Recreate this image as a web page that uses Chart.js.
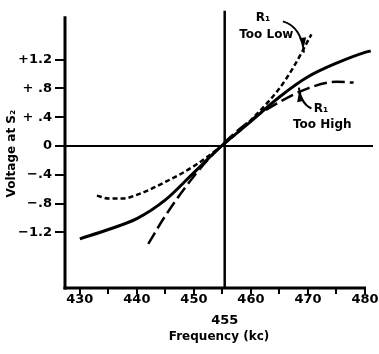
<!DOCTYPE html>
<html>
<head>
<meta charset="utf-8">
<script src="https://cdn.jsdelivr.net/npm/chart.js@4/dist/chart.umd.min.js"></script>
<style>
  html, body { margin: 0; padding: 0; background: #fff; }
  canvas { display: block; }
</style>
</head>
<body>
<canvas id="freqChart" width="379" height="354"></canvas>
<script>
// values
const freqNormal = [430, 435, 440, 445, 450, 455, 460, 465, 470, 475, 480, 481];
const voltNormal = [-1.29, -1.16, -1.01, -0.75, -0.37, 0.01, 0.34, 0.68, 0.96, 1.15, 1.30, 1.32];

const freqTooLow = [433, 435, 437.5, 440, 445, 450, 455, 460, 465, 467.5, 470.6];
const voltTooLow = [-0.69, -0.73, -0.73, -0.68, -0.50, -0.28, 0.01, 0.36, 0.80, 1.10, 1.55];

const freqTooHigh = [442, 445, 450, 455, 460, 465, 470, 475, 478];
const voltTooHigh = [-1.36, -0.97, -0.42, 0.02, 0.36, 0.61, 0.80, 0.89, 0.88];

const xTicks = [430, 435, 440, 445, 450, 455, 460, 465, 470, 475, 480];
const yTicks = [-1.2, -0.8, -0.4, 0, 0.4, 0.8, 1.2];
const yTickLabels = ['\u22121.2', '\u2212.8', '\u2212.4', '0', '+ .4', '+ .8', '+1.2'];

const FONT = "'DejaVu Sans', sans-serif";
// the hand-drawn centre line sits a hair right of the 455 tick
const CENTER_LINE = 455.4;

function toPoints(xs, ys) {
    return xs.map((v, i) => ({ x: v, y: ys[i] }));
}

function drawArrowHead(ctx, fromX, fromY, tipX, tipY) {
    const ang = Math.atan2(tipY - fromY, tipX - fromX);
    const len = 9, half = 3.5;
    ctx.beginPath();
    ctx.moveTo(tipX, tipY);
    ctx.lineTo(tipX - len * Math.cos(ang) + half * Math.sin(ang), tipY - len * Math.sin(ang) - half * Math.cos(ang));
    ctx.lineTo(tipX - len * Math.cos(ang) - half * Math.sin(ang), tipY - len * Math.sin(ang) + half * Math.cos(ang));
    ctx.closePath();
    ctx.fill();
}

// axes, reference lines and the R1 notes
const paperPlugin = {
    id: 'paper',
    beforeDraw(chart) {
        const ctx = chart.ctx;
        ctx.save();
        ctx.fillStyle = '#fff';
        ctx.fillRect(0, 0, chart.width, chart.height);
        ctx.restore();
    },
    beforeDatasetsDraw(chart) {
        const { ctx, chartArea, scales: { x, y } } = chart;
        ctx.save();
        ctx.strokeStyle = '#000';

        // left axis stops a little below the top of the plot
        ctx.lineWidth = 3;
        ctx.beginPath();
        ctx.moveTo(chartArea.left, y.getPixelForValue(1.8));
        ctx.lineTo(chartArea.left, chartArea.bottom + 1.5);
        ctx.stroke();

        // bottom axis ends at 480
        ctx.beginPath();
        ctx.moveTo(chartArea.left - 1.5, chartArea.bottom);
        ctx.lineTo(x.getPixelForValue(480) + 1, chartArea.bottom);
        ctx.stroke();

        // zero line
        ctx.lineWidth = 2;
        ctx.beginPath();
        ctx.moveTo(chartArea.left, y.getPixelForValue(0));
        ctx.lineTo(chartArea.right, y.getPixelForValue(0));
        ctx.stroke();

        // centre frequency
        const xc = x.getPixelForValue(CENTER_LINE);
        ctx.lineWidth = 2.5;
        ctx.beginPath();
        ctx.moveTo(xc, chartArea.top);
        ctx.lineTo(xc, chartArea.bottom);
        ctx.stroke();

        ctx.fillStyle = '#000';
        ctx.font = 'bold 13px ' + FONT;
        ctx.textAlign = 'center';
        ctx.textBaseline = 'middle';
        ctx.fillText('455', xc, chartArea.bottom + 33);
        ctx.restore();
    },
    afterDatasetsDraw(chart) {
        const { ctx, scales: { x, y } } = chart;
        const px = v => x.getPixelForValue(v);
        const py = v => y.getPixelForValue(v);
        ctx.save();
        ctx.fillStyle = '#000';
        ctx.strokeStyle = '#000';
        ctx.textAlign = 'center';
        ctx.textBaseline = 'middle';

        ctx.font = 'bold 12px ' + FONT;
        ctx.fillText('R\u2081', px(462.1), py(1.78));
        ctx.fillText('Too Low', px(462.7), py(1.54));
        ctx.fillText('R\u2081', px(472.3), py(0.52));
        ctx.fillText('Too High', px(472.5), py(0.29));

        ctx.lineWidth = 2;
        // arrow to the R1-too-low curve
        let sx = px(465.6), sy = py(1.73), cx = px(468.8), cy = py(1.66), tx = px(469.3), ty = py(1.38);
        ctx.beginPath();
        ctx.moveTo(sx, sy);
        ctx.quadraticCurveTo(cx, cy, tx, ty + 6);
        ctx.stroke();
        drawArrowHead(ctx, cx, cy, tx, ty);

        // arrow to the R1-too-high curve
        sx = px(470.6); sy = py(0.52); cx = px(468.8); cy = py(0.58); tx = px(468.4); ty = py(0.74);
        ctx.beginPath();
        ctx.moveTo(sx, sy);
        ctx.quadraticCurveTo(cx, cy, tx, ty - 5);
        ctx.stroke();
        drawArrowHead(ctx, cx, cy, tx, ty);
        ctx.restore();
    }
};

const ctx = document.getElementById('freqChart').getContext('2d');
const chart = new Chart(ctx, {
    type: 'line',
    data: {
        datasets: [{
            label: 'Normal',
            data: toPoints(freqNormal, voltNormal),
            borderColor: '#000',
            borderWidth: 3,
            pointRadius: 0,
            cubicInterpolationMode: 'monotone'
        }, {
            label: 'R1 Too Low',
            data: toPoints(freqTooLow, voltTooLow),
            borderColor: '#000',
            borderWidth: 2.5,
            borderDash: [5, 3],
            pointRadius: 0,
            cubicInterpolationMode: 'monotone'
        }, {
            label: 'R1 Too High',
            data: toPoints(freqTooHigh, voltTooHigh),
            borderColor: '#000',
            borderWidth: 2.5,
            borderDash: [13, 5],
            pointRadius: 0,
            cubicInterpolationMode: 'monotone'
        }]
    },
    options: {
        responsive: false,
        animation: false,
        devicePixelRatio: 1,
        layout: { padding: { top: 7, right: 6, left: 0, bottom: 0 } },
        plugins: {
            legend: { display: false },
            tooltip: { enabled: false }
        },
        scales: {
            x: {
                type: 'linear',
                min: 427.4,
                max: 481.4,
                afterBuildTicks: s => { s.ticks = xTicks.map(v => ({ value: v })); },
                afterFit: s => { s.height = 66; },
                ticks: {
                    autoSkip: false,
                    maxRotation: 0,
                    padding: -2,
                    color: '#000',
                    font: { family: FONT, size: 13, weight: 'bold' },
                    callback: v => (v % 10 === 0 ? String(v) : '')
                },
                grid: { drawOnChartArea: false, tickLength: 6, lineWidth: 2, color: '#000' },
                border: { display: false },
                title: {
                    display: true,
                    text: 'Frequency (kc)',
                    color: '#000',
                    font: { family: FONT, size: 12, weight: 'bold' },
                    padding: { top: 0, bottom: 10 }
                }
            },
            y: {
                min: -1.973,
                max: 1.877,
                afterBuildTicks: s => { s.ticks = yTicks.map(v => ({ value: v })); },
                afterFit: s => { s.width = 65; },
                ticks: {
                    padding: 3,
                    color: '#000',
                    font: { family: FONT, size: 13, weight: 'bold' },
                    callback: (v, i) => yTickLabels[i]
                },
                grid: { drawOnChartArea: false, tickLength: 10, lineWidth: 2, color: '#000' },
                border: { display: false },
                title: {
                    display: true,
                    // trailing spaces nudge the rotated title down like the original
                    text: 'Voltage at S\u2082  ',
                    color: '#000',
                    font: { family: FONT, size: 12, weight: 'bold' },
                    padding: { top: 5, bottom: 0 }
                }
            }
        }
    },
    plugins: [paperPlugin]
});
</script>
</body>
</html>
